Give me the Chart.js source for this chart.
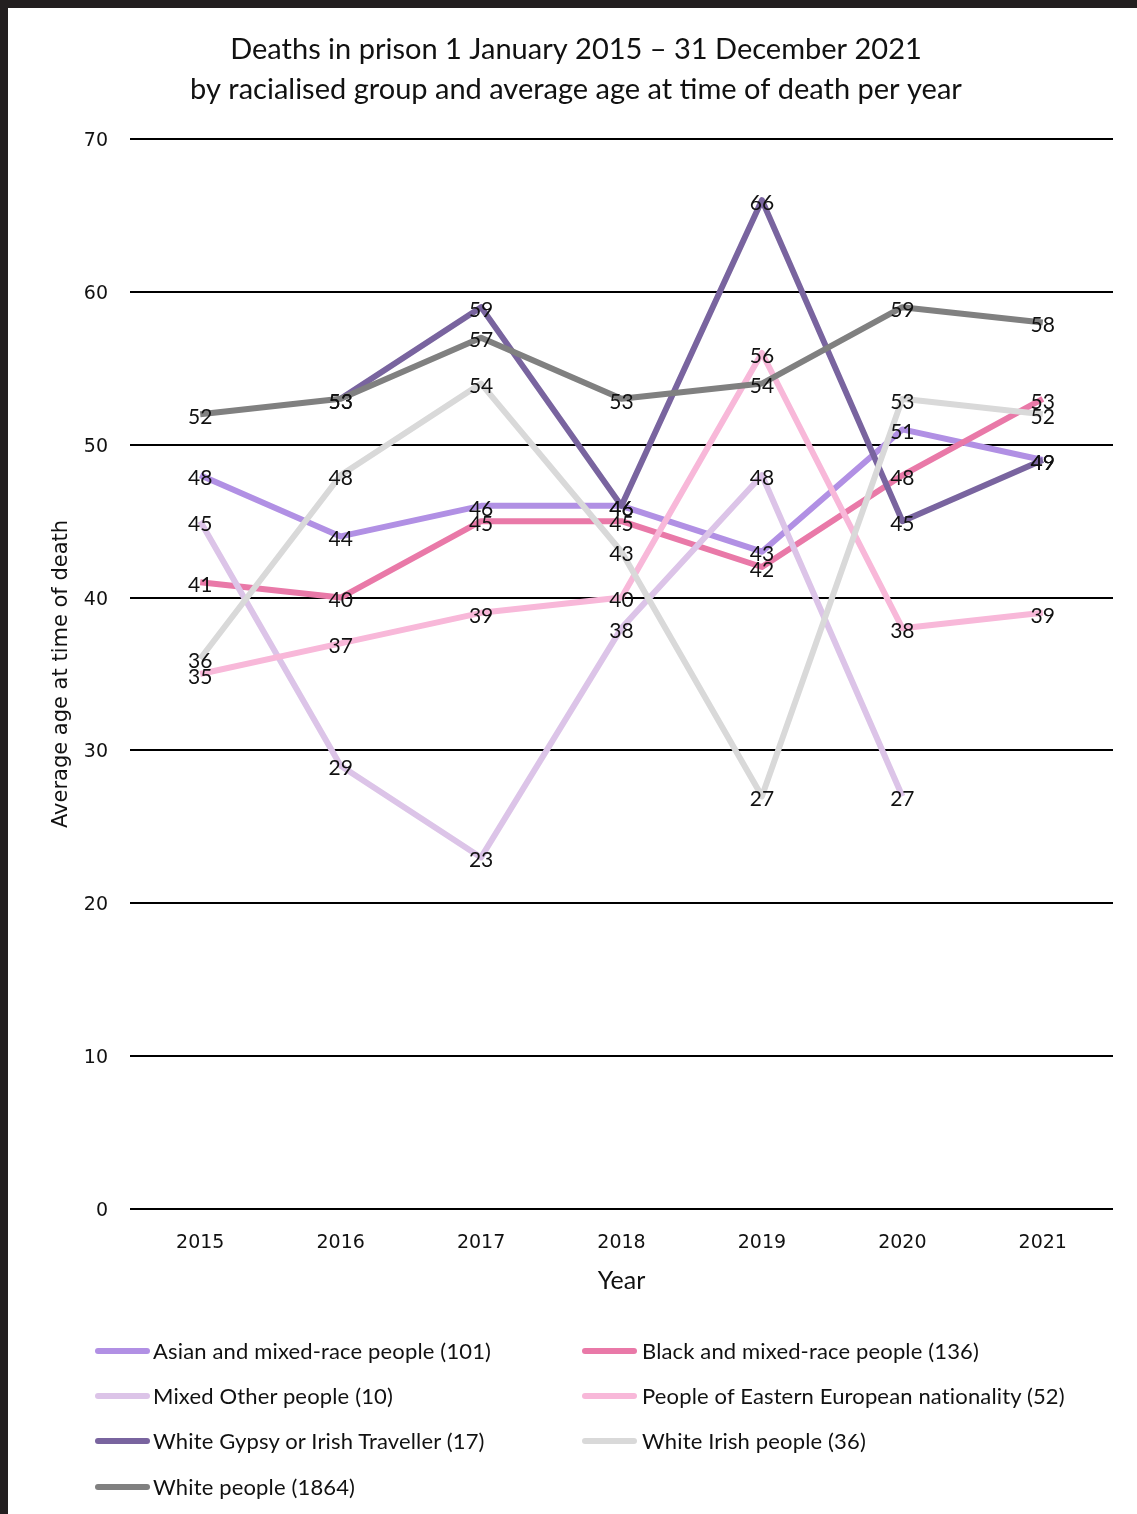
<!DOCTYPE html>
<html>
<head>
<meta charset="utf-8">
<script src="https://cdn.jsdelivr.net/npm/chart.js@4/dist/chart.umd.min.js"></script>
<style>
  html, body { margin: 0; padding: 0; background: #fff; }
  #wrap { position: relative; width: 1137px; height: 1514px; overflow: hidden; }
  #chart { position: absolute; left: 0; top: 0; }
  .edge { position: absolute; background: #231f20; }
  #legend { position: absolute; left: 0; top: 0; width: 1137px; height: 1514px; pointer-events: none;
            font-family: Lato, "Open Sans", sans-serif; font-size: 22px; letter-spacing: 0.15px; color: #111; }
  .item { position: absolute; height: 30px; line-height: 30px; white-space: nowrap; transform: translateY(-50%); }
  .swatch { position: absolute; left: 0; top: 12px; width: 55px; height: 6px; border-radius: 3px; }
  .item span.txt { position: absolute; white-space: nowrap; }
</style>
</head>
<body>
<div id="wrap">
  <canvas id="chart" width="1137" height="1514"></canvas>
  <div class="edge" style="left:0;top:0;width:1137px;height:8px"></div>
  <div class="edge" style="left:0;top:0;width:8px;height:1514px"></div>
  <div id="legend"></div>
</div>
<script>
// years on the x axis
var years = ['2015', '2016', '2017', '2018', '2019', '2020', '2021'];

// average age at time of death per year, one array per group
var asianMixed = [48, 44, 46, 46, 43, 51, 49];
var blackMixed = [41, 40, 45, 45, 42, 48, 53];
var mixedOther = [45, 29, 23, 38, 48, 27, null];
var easternEuropean = [35, 37, 39, 40, 56, 38, 39];
var gypsyTraveller = [null, 53, 59, 46, 66, 45, 49];
var whiteIrish = [36, 48, 54, 43, 27, 53, 52];
var whitePeople = [52, 53, 57, 53, 54, 59, 58];

var seriesNames = [
  'Asian and mixed-race people (101)',
  'Black and mixed-race people (136)',
  'Mixed Other people (10)',
  'People of Eastern European nationality (52)',
  'White Gypsy or Irish Traveller (17)',
  'White Irish people (36)',
  'White people (1864)'
];
var seriesValues = [asianMixed, blackMixed, mixedOther, easternEuropean, gypsyTraveller, whiteIrish, whitePeople];
var seriesColors = ['#b190e4', '#e979a8', '#dcc4e8', '#f8b8d9', '#79649f', '#d9d9d9', '#808080'];

var yTicks = [0, 10, 20, 30, 40, 50, 60, 70];

var datasets = seriesNames.map(function (name, i) {
  return {
    label: name,
    data: seriesValues[i],
    borderColor: seriesColors[i],
    backgroundColor: seriesColors[i],
    borderWidth: 6,
    borderJoinStyle: 'round',
    pointRadius: 0,
    pointHoverRadius: 0,
    fill: false,
    tension: 0,
    order: seriesNames.length - i   // later series drawn on top, like the original
  };
});

// value labels centred on each point
var valueLabels = {
  id: 'valueLabels',
  afterDatasetsDraw: function (chart) {
    var ctx = chart.ctx;
    ctx.save();
    ctx.font = '21px Lato';
    ctx.fillStyle = '#111';
    ctx.textAlign = 'center';
    ctx.textBaseline = 'middle';
    chart.data.datasets.forEach(function (ds, i) {
      var meta = chart.getDatasetMeta(i);
      meta.data.forEach(function (pt, j) {
        if (ds.data[j] == null) return;
        ctx.fillText(ds.data[j], pt.x, pt.y + 3);
      });
    });
    ctx.restore();
  }
};

var ctx = document.getElementById('chart');
new Chart(ctx, {
  type: 'line',
  data: { labels: years, datasets: datasets },
  options: {
    responsive: false,
    animation: false,
    events: [],
    layout: { padding: { left: 39, right: 24, top: 0, bottom: 205 } },
    plugins: {
      legend: { display: false },
      tooltip: { enabled: false },
      title: {
        display: true,
        text: ['Deaths in prison 1 January 2015 \u2013 31 December 2021',
               'by racialised group and average age at time of death per year'],
        color: '#111',
        font: { family: 'Lato', size: 29, weight: 'normal', lineHeight: '40px' },
        padding: { top: 30, bottom: 29 }
      }
    },
    scales: {
      x: {
        offset: true,
        grid: { display: false, drawTicks: false },
        border: { display: false },
        ticks: { color: '#111', font: { family: 'DejaVu Sans', size: 19 }, padding: 23, maxRotation: 0 },
        title: { display: true, text: 'Year', color: '#111',
                 font: { family: 'Lato', size: 25 }, padding: { top: 0, bottom: 13 } },
        afterFit: function (scale) { scale.height = 100; }
      },
      y: {
        min: 0, max: 70,
        afterBuildTicks: function (scale) {
          scale.ticks = yTicks.map(function (v) { return { value: v }; });
        },
        grid: { color: '#000', lineWidth: 2, drawTicks: false },
        border: { display: false },
        ticks: { color: '#111', font: { family: 'DejaVu Sans', size: 19 }, padding: 22,
                 labelOffset: 2 },
        title: { display: true, text: 'Average age at time of death', color: '#111',
                 font: { family: 'DejaVu Sans', size: 21 }, padding: { top: 10, bottom: 0 } },
        afterFit: function (scale) { scale.width = 91; }
      }
    }
  },
  plugins: [valueLabels]
});

// two-column legend under the chart
var legendBox = document.getElementById('legend');
var colX = [95, 582];
var rowY = [1351, 1396, 1441, 1487];
seriesNames.forEach(function (name, i) {
  var item = document.createElement('div');
  item.className = 'item';
  item.style.left = colX[i % 2] + 'px';
  item.style.top = rowY[Math.floor(i / 2)] + 'px';
  var sw = document.createElement('div');
  sw.className = 'swatch';
  sw.style.background = seriesColors[i];
  var txt = document.createElement('span');
  txt.className = 'txt';
  txt.style.left = (i % 2 ? 60 : 58) + 'px';
  txt.textContent = name;
  item.appendChild(sw);
  item.appendChild(txt);
  legendBox.appendChild(item);
});
</script>
</body>
</html>
